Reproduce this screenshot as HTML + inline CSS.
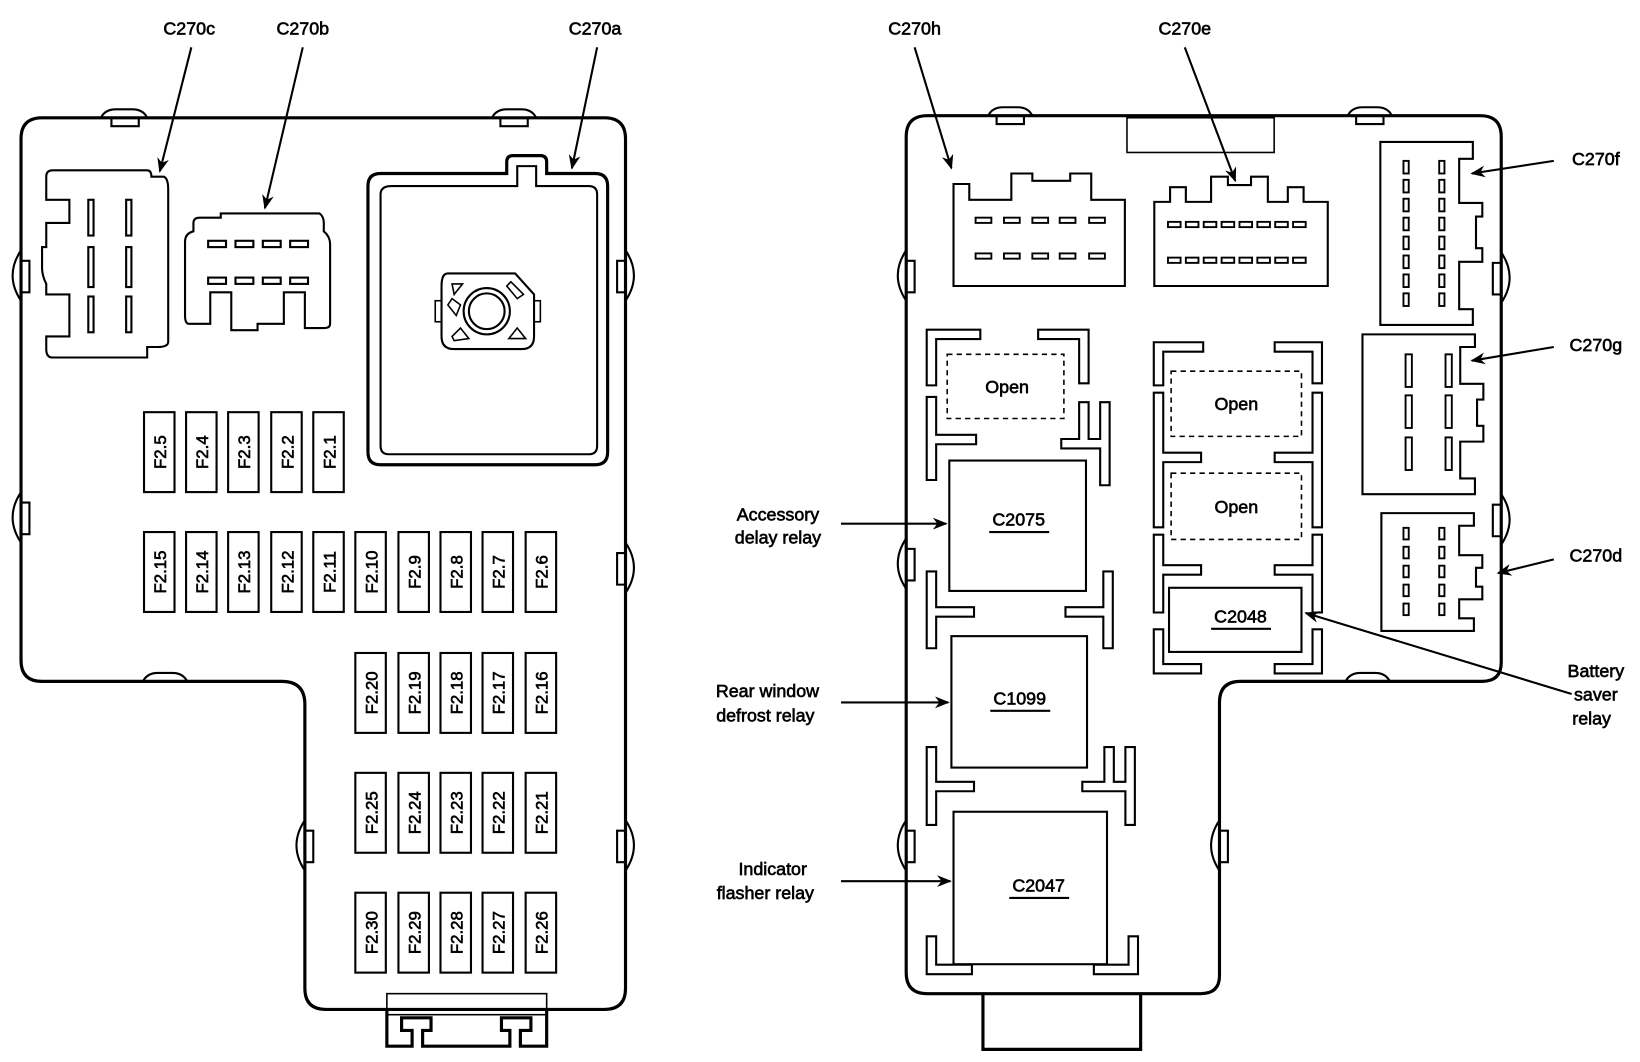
<!DOCTYPE html>
<html><head><meta charset="utf-8"><style>
html,body{margin:0;padding:0;background:#fff;}
svg{display:block}
text{font-family:"Liberation Sans",sans-serif;fill:#000;stroke:#000;stroke-width:0.6}
.l{font-size:17px}
.f{font-size:16px}
</style></head><body>
<svg width="1640" height="1062" viewBox="0 0 1560 1010" preserveAspectRatio="none" xmlns="http://www.w3.org/2000/svg">
<defs>
<marker id="a" viewBox="0 0 10 10" refX="9" refY="5" markerWidth="7" markerHeight="7" orient="auto"><path d="M0,1 L10,5 L0,9 L3,5 Z" fill="#000"/></marker>
</defs>
<g fill="none" stroke="#000">
<!-- LEFT BOX -->
<path stroke-width="3" d="M40 112 H575 Q595 112 595 132 V940 Q595 960 575 960 H310 Q290 960 290 940 V670 Q290 648 268 648 H40 Q20 648 20 628 V132 Q20 112 40 112 Z"/>
<path stroke-width="2" d="M96 112 Q100 104 110 104 H126 Q136 104 140 112 M106 112 V120 H132 V112"/>
<path stroke-width="2" d="M468 112 Q472 104 482 104 H496 Q506 104 510 112 M476 112 V120 H502 V112"/>
<path stroke-width="2" d="M136 648 Q140 640 150 640 H164 Q174 640 178 648"/>
<path stroke-width="2" d="M20 238 Q12 250 12 262 Q12 274 20 286 M20 248 H28 V278 H20"/>
<path stroke-width="2" d="M20 468 Q12 480 12 492 Q12 504 20 516 M20 478 H28 V508 H20"/>
<path stroke-width="2" d="M595 238 Q603 250 603 262 Q603 274 595 286 M595 248 H587 V278 H595"/>
<path stroke-width="2" d="M595 516 Q603 528 603 540 Q603 552 595 564 M595 526 H587 V556 H595"/>
<path stroke-width="2" d="M595 780 Q603 792 603 804 Q603 816 595 828 M595 790 H587 V820 H595"/>
<path stroke-width="2" d="M290 780 Q282 792 282 804 Q282 816 290 828 M290 790 H298 V820 H290"/>
<rect x="368" y="945" width="152" height="20" stroke-width="1.5"/>
<path stroke-width="3" d="M368 960 V995 H392 V980 H382 V968 H410 V980 H402 V995 H485 V980 H477 V968 H505 V980 H495 V995 H520 V960"/>
<!-- C270c -->
<path stroke-width="2" d="M50 162 H140 Q144 162 144 168 H156 Q160 170 160 180 V325 Q160 330 150 330 H140 V340 H50 Q44 340 44 332 V320 H66 V280 H44 V270 Q40 262 40 255 V235 H44 V212 H66 V190 H44 V168 Q44 162 50 162 Z"/>
<g stroke-width="2"><rect x="84" y="190" width="5" height="34"/><rect x="120" y="190" width="5" height="34"/><rect x="84" y="235" width="5" height="38"/><rect x="120" y="235" width="5" height="38"/><rect x="84" y="282" width="5" height="34"/><rect x="120" y="282" width="5" height="34"/></g>
<!-- C270b -->
<path stroke-width="2" d="M190 207 H210 V203 H304 Q308 206 308 212 V220 Q314 225 314 232 V308 Q314 312 308 312 H290 V278 H270 V308 H245 V314 H220 V278 H200 V308 H180 Q176 308 176 300 V230 Q176 222 184 220 V212 Q184 207 190 207 Z"/>
<g stroke-width="2"><rect x="198" y="229" width="17" height="6"/><rect x="224" y="229" width="17" height="6"/><rect x="250" y="229" width="17" height="6"/><rect x="276" y="229" width="17" height="6"/><rect x="198" y="264" width="17" height="6"/><rect x="224" y="264" width="17" height="6"/><rect x="250" y="264" width="17" height="6"/><rect x="276" y="264" width="17" height="6"/></g>
<!-- C270a -->
<path stroke-width="3" d="M362 165 H482 V154 Q482 148 488 148 H514 Q520 148 520 154 V165 H566 Q578 165 578 177 V430 Q578 442 566 442 H362 Q350 442 350 430 V177 Q350 165 362 165 Z"/>
<path stroke-width="2" d="M372 177 H492 V158 H510 V177 H560 Q568 177 568 185 V424 Q568 432 560 432 H370 Q362 432 362 424 V185 Q362 177 372 177 Z"/>
<path stroke-width="2" d="M426 260 H490 L508 280 V320 Q508 332 496 332 H432 Q420 332 420 320 V272 Q420 260 426 260 Z"/>
<circle cx="463" cy="296" r="22" stroke-width="2"/><circle cx="463" cy="296" r="17" stroke-width="2"/>
<g stroke-width="1.5"><path d="M430 270 L440 270 L432 280 Z M486 268 L498 280 L492 284 L482 272 Z M430 320 L438 312 L446 322 L432 324 Z M484 322 L492 312 L500 322 Z M426 290 L430 284 L438 290 L434 300 Z"/></g>
<rect x="414" y="286" width="6" height="20" stroke-width="1.5"/><rect x="508" y="286" width="6" height="20" stroke-width="1.5"/>
<!-- FUSES -->
<g stroke-width="2">
<rect x="137" y="392" width="29" height="76"/><rect x="177" y="392" width="29" height="76"/><rect x="217" y="392" width="29" height="76"/><rect x="258" y="392" width="29" height="76"/><rect x="298" y="392" width="29" height="76"/>
<rect x="137" y="506" width="29" height="76"/><rect x="177" y="506" width="29" height="76"/><rect x="217" y="506" width="29" height="76"/><rect x="258" y="506" width="29" height="76"/><rect x="298" y="506" width="29" height="76"/><rect x="338" y="506" width="29" height="76"/><rect x="379" y="506" width="29" height="76"/><rect x="419" y="506" width="29" height="76"/><rect x="459" y="506" width="29" height="76"/><rect x="500" y="506" width="29" height="76"/>
<rect x="338" y="621" width="29" height="76"/><rect x="379" y="621" width="29" height="76"/><rect x="419" y="621" width="29" height="76"/><rect x="459" y="621" width="29" height="76"/><rect x="500" y="621" width="29" height="76"/>
<rect x="338" y="735" width="29" height="76"/><rect x="379" y="735" width="29" height="76"/><rect x="419" y="735" width="29" height="76"/><rect x="459" y="735" width="29" height="76"/><rect x="500" y="735" width="29" height="76"/>
<rect x="338" y="849" width="29" height="76"/><rect x="379" y="849" width="29" height="76"/><rect x="419" y="849" width="29" height="76"/><rect x="459" y="849" width="29" height="76"/><rect x="500" y="849" width="29" height="76"/>
</g>
<!-- LEFT ARROWS -->
<g stroke-width="2" marker-end="url(#a)">
<line x1="182" y1="45" x2="152" y2="163"/>
<line x1="288" y1="45" x2="252" y2="198"/>
<line x1="568" y1="45" x2="544" y2="160"/>
</g>

<!-- RIGHT BOX -->
<path stroke-width="3" d="M882 110 H1408 Q1428 110 1428 130 V630 Q1428 648 1410 648 H1180 Q1160 648 1160 668 V928 Q1160 945 1142 945 H882 Q862 945 862 925 V130 Q862 110 882 110 Z"/>
<path stroke-width="3" d="M935 945 V998 H1085 V945"/>
<rect x="1072" y="112" width="140" height="33" stroke-width="1.5"/>
<path stroke-width="2" d="M940 110 Q944 102 954 102 H968 Q978 102 982 110 M948 110 V118 H974 V110"/>
<path stroke-width="2" d="M1282 110 Q1286 102 1296 102 H1310 Q1320 102 1324 110 M1290 110 V118 H1316 V110"/>
<path stroke-width="2" d="M1280 648 Q1284 640 1294 640 H1308 Q1318 640 1322 648"/>
<path stroke-width="2" d="M862 238 Q854 250 854 262 Q854 274 862 286 M862 248 H870 V278 H862"/>
<path stroke-width="2" d="M862 512 Q854 524 854 536 Q854 548 862 560 M862 522 H870 V552 H862"/>
<path stroke-width="2" d="M862 780 Q854 792 854 804 Q854 816 862 828 M862 790 H870 V820 H862"/>
<path stroke-width="2" d="M1428 240 Q1436 252 1436 264 Q1436 276 1428 288 M1428 250 H1420 V280 H1428"/>
<path stroke-width="2" d="M1428 470 Q1436 482 1436 494 Q1436 506 1428 518 M1428 480 H1420 V510 H1428"/>
<path stroke-width="2" d="M1160 780 Q1152 792 1152 804 Q1152 816 1160 828 M1160 790 H1168 V820 H1160"/>
<!-- C270h -->
<path stroke-width="2" d="M907 272 V175 H922 V190 H962 V165 H982 V172 H1018 V165 H1038 V190 H1070 V272 Z"/>
<g stroke-width="1.8"><rect x="928" y="207" width="15" height="5"/><rect x="955" y="207" width="15" height="5"/><rect x="982" y="207" width="15" height="5"/><rect x="1008" y="207" width="15" height="5"/><rect x="1036" y="207" width="15" height="5"/>
<rect x="928" y="241" width="15" height="5"/><rect x="955" y="241" width="15" height="5"/><rect x="982" y="241" width="15" height="5"/><rect x="1008" y="241" width="15" height="5"/><rect x="1036" y="241" width="15" height="5"/></g>
<!-- C270e -->
<path stroke-width="2" d="M1098 272 V192 H1113 V178 H1128 V192 H1152 V168 H1168 V176 H1190 V168 H1206 V192 H1225 V178 H1240 V192 H1263 V272 Z"/>
<g stroke-width="1.8"><rect x="1111" y="211" width="12" height="5"/><rect x="1128" y="211" width="12" height="5"/><rect x="1145" y="211" width="12" height="5"/><rect x="1162" y="211" width="12" height="5"/><rect x="1179" y="211" width="12" height="5"/><rect x="1196" y="211" width="12" height="5"/><rect x="1213" y="211" width="12" height="5"/><rect x="1230" y="211" width="12" height="5"/>
<rect x="1111" y="245" width="12" height="5"/><rect x="1128" y="245" width="12" height="5"/><rect x="1145" y="245" width="12" height="5"/><rect x="1162" y="245" width="12" height="5"/><rect x="1179" y="245" width="12" height="5"/><rect x="1196" y="245" width="12" height="5"/><rect x="1213" y="245" width="12" height="5"/><rect x="1230" y="245" width="12" height="5"/></g>
<!-- C270f -->
<path stroke-width="2" d="M1313 135 H1401 V151 H1388 V193 H1410 V206 H1404 V236 H1410 V249 H1388 V294 H1401 V309 H1313 Z"/>
<g stroke-width="1.8">
<rect x="1335" y="153" width="5" height="12"/><rect x="1335" y="171" width="5" height="12"/><rect x="1335" y="189" width="5" height="12"/><rect x="1335" y="207" width="5" height="12"/><rect x="1335" y="225" width="5" height="12"/><rect x="1335" y="243" width="5" height="12"/><rect x="1335" y="261" width="5" height="12"/><rect x="1335" y="279" width="5" height="12"/>
<rect x="1369" y="153" width="5" height="12"/><rect x="1369" y="171" width="5" height="12"/><rect x="1369" y="189" width="5" height="12"/><rect x="1369" y="207" width="5" height="12"/><rect x="1369" y="225" width="5" height="12"/><rect x="1369" y="243" width="5" height="12"/><rect x="1369" y="261" width="5" height="12"/><rect x="1369" y="279" width="5" height="12"/></g>
<!-- C270g -->
<path stroke-width="2" d="M1296 318 H1403 V330 H1389 V365 H1411 V380 H1405 V405 H1411 V420 H1389 V455 H1403 V470 H1296 Z"/>
<g stroke-width="1.8"><rect x="1337" y="337" width="6" height="31"/><rect x="1375" y="337" width="6" height="31"/><rect x="1337" y="376" width="6" height="31"/><rect x="1375" y="376" width="6" height="31"/><rect x="1337" y="416" width="6" height="31"/><rect x="1375" y="416" width="6" height="31"/></g>
<!-- C270d -->
<path stroke-width="2" d="M1314 488 H1402 V500 H1388 V528 H1410 V540 H1404 V558 H1410 V570 H1388 V588 H1402 V600 H1314 Z"/>
<g stroke-width="1.8"><rect x="1335" y="502" width="5" height="11"/><rect x="1335" y="520" width="5" height="11"/><rect x="1335" y="538" width="5" height="11"/><rect x="1335" y="556" width="5" height="11"/><rect x="1335" y="574" width="5" height="11"/>
<rect x="1369" y="502" width="5" height="11"/><rect x="1369" y="520" width="5" height="11"/><rect x="1369" y="538" width="5" height="11"/><rect x="1369" y="556" width="5" height="11"/><rect x="1369" y="574" width="5" height="11"/></g>
<!-- Brackets: black then white -->
<g stroke-width="11" stroke-linejoin="miter" stroke-linecap="square">
<path d="M886 362 V318 H928"/><path d="M992 318 H1031 V360"/>
<path d="M886 382 V452 M886 418 H924"/><path d="M1051 387 V457 M1051 422 H1014 M1031 387 V418"/>
<path d="M886 548 V612 M886 582 H922"/><path d="M1054 548 V612 M1054 582 H1018"/>
<path d="M886 715 V780 M886 748 H922"/><path d="M1075 715 V780 M1075 748 H1034 M1055 715 V744"/>
<path d="M886 895 V922 H920"/><path d="M1045 922 H1078 V895"/>
<path d="M1102 362 V330 H1140"/><path d="M1217 330 H1253 V360"/>
<path d="M1102 378 V497 M1102 435 H1138"/><path d="M1253 378 V497 M1253 435 H1217"/>
<path d="M1102 513 V578 M1102 542 H1138"/><path d="M1253 513 V578 M1253 542 H1217"/>
<path d="M1102 603 V636 H1138"/><path d="M1217 636 H1253 V603"/>
</g>
<g stroke-width="7" stroke="#fff" stroke-linejoin="miter" stroke-linecap="square">
<path d="M886 362 V318 H928"/><path d="M992 318 H1031 V360"/>
<path d="M886 382 V452 M886 418 H924"/><path d="M1051 387 V457 M1051 422 H1014 M1031 387 V418"/>
<path d="M886 548 V612 M886 582 H922"/><path d="M1054 548 V612 M1054 582 H1018"/>
<path d="M886 715 V780 M886 748 H922"/><path d="M1075 715 V780 M1075 748 H1034 M1055 715 V744"/>
<path d="M886 895 V922 H920"/><path d="M1045 922 H1078 V895"/>
<path d="M1102 362 V330 H1140"/><path d="M1217 330 H1253 V360"/>
<path d="M1102 378 V497 M1102 435 H1138"/><path d="M1253 378 V497 M1253 435 H1217"/>
<path d="M1102 513 V578 M1102 542 H1138"/><path d="M1253 513 V578 M1253 542 H1217"/>
<path d="M1102 603 V636 H1138"/><path d="M1217 636 H1253 V603"/>
</g>
<!-- Relays -->
<g fill="#fff" stroke-width="2">
<rect x="903" y="438" width="130" height="124"/>
<rect x="905" y="605" width="129" height="125"/>
<rect x="907" y="772" width="146" height="145"/>
<rect x="1112" y="559" width="126" height="61"/>
</g>
<g stroke-width="1.5" stroke-dasharray="5,4">
<rect x="901" y="337" width="111" height="61"/><rect x="1114" y="353" width="124" height="62"/><rect x="1114" y="450" width="124" height="63"/></g>
<!-- Right arrows -->
<g stroke-width="2" marker-end="url(#a)">
<line x1="870" y1="45" x2="905" y2="160"/>
<line x1="1127" y1="45" x2="1175" y2="172"/>
<line x1="1478" y1="153" x2="1400" y2="165"/>
<line x1="1478" y1="330" x2="1400" y2="343"/>
<line x1="1478" y1="532" x2="1425" y2="545"/>
<line x1="1495" y1="660" x2="1242" y2="583"/>
<line x1="800" y1="498" x2="900" y2="498"/>
<line x1="800" y1="668" x2="902" y2="668"/>
<line x1="800" y1="838" x2="904" y2="838"/>
</g>
</g>
<!-- TEXT -->
<g class="l" text-anchor="middle">
<text x="180" y="33">C270c</text><text x="288" y="33">C270b</text><text x="566" y="33">C270a</text>
<text x="870" y="33">C270h</text><text x="1127" y="33">C270e</text>
<text x="1518" y="157">C270f</text><text x="1518" y="334">C270g</text><text x="1518" y="534">C270d</text>
<text x="1518" y="644">Battery</text><text x="1518" y="666">saver</text><text x="1514" y="689">relay</text>
<text x="740" y="495">Accessory</text><text x="740" y="517">delay relay</text>
<text x="730" y="663">Rear window</text><text x="728" y="686">defrost relay</text>
<text x="735" y="832">Indicator</text><text x="728" y="855">flasher relay</text>
<text x="958" y="374">Open</text><text x="1176" y="390">Open</text><text x="1176" y="488">Open</text>
<text x="969" y="500">C2075</text>
<text x="970" y="670">C1099</text>
<text x="988" y="848">C2047</text>
<text x="1180" y="592">C2048</text>
</g>
<g stroke="#000" stroke-width="2">
<line x1="941" y1="506" x2="998" y2="506"/><line x1="942" y1="676" x2="999" y2="676"/><line x1="960" y1="854" x2="1017" y2="854"/><line x1="1152" y1="598" x2="1209" y2="598"/>
</g>
<g class="f" text-anchor="middle">
<text transform="translate(158,430) rotate(-90)">F2.5</text><text transform="translate(198,430) rotate(-90)">F2.4</text><text transform="translate(238,430) rotate(-90)">F2.3</text><text transform="translate(279,430) rotate(-90)">F2.2</text><text transform="translate(319,430) rotate(-90)">F2.1</text>
<text transform="translate(158,544) rotate(-90)">F2.15</text><text transform="translate(198,544) rotate(-90)">F2.14</text><text transform="translate(238,544) rotate(-90)">F2.13</text><text transform="translate(279,544) rotate(-90)">F2.12</text><text transform="translate(319,544) rotate(-90)">F2.11</text><text transform="translate(359,544) rotate(-90)">F2.10</text><text transform="translate(400,544) rotate(-90)">F2.9</text><text transform="translate(440,544) rotate(-90)">F2.8</text><text transform="translate(480,544) rotate(-90)">F2.7</text><text transform="translate(521,544) rotate(-90)">F2.6</text>
<text transform="translate(359,659) rotate(-90)">F2.20</text><text transform="translate(400,659) rotate(-90)">F2.19</text><text transform="translate(440,659) rotate(-90)">F2.18</text><text transform="translate(480,659) rotate(-90)">F2.17</text><text transform="translate(521,659) rotate(-90)">F2.16</text>
<text transform="translate(359,773) rotate(-90)">F2.25</text><text transform="translate(400,773) rotate(-90)">F2.24</text><text transform="translate(440,773) rotate(-90)">F2.23</text><text transform="translate(480,773) rotate(-90)">F2.22</text><text transform="translate(521,773) rotate(-90)">F2.21</text>
<text transform="translate(359,887) rotate(-90)">F2.30</text><text transform="translate(400,887) rotate(-90)">F2.29</text><text transform="translate(440,887) rotate(-90)">F2.28</text><text transform="translate(480,887) rotate(-90)">F2.27</text><text transform="translate(521,887) rotate(-90)">F2.26</text>
</g>
</svg>
</body></html>
